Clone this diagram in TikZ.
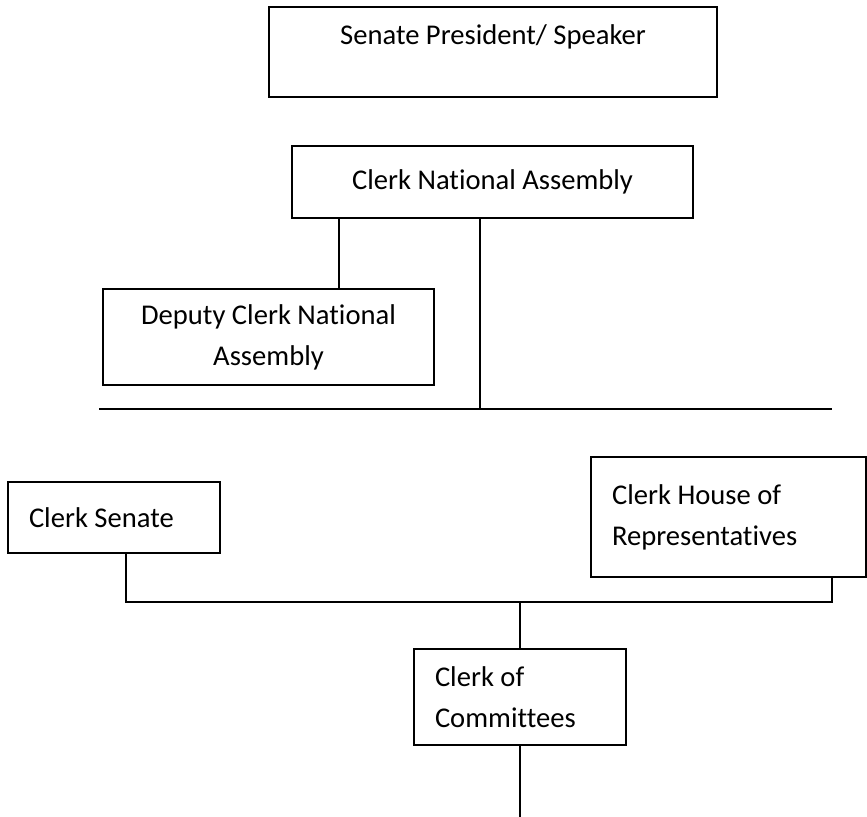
\documentclass[tikz,border=0pt]{standalone}
\usepackage{fontspec}
\setmainfont{Carlito}[Ligatures=NoCommon]
\usepackage{tikz}
\usetikzlibrary{positioning,calc}

\begin{document}
\begin{tikzpicture}[
  x=0.5pt, y=-0.5pt,
  font=\fontsize{14.3}{20.5}\selectfont,
  box/.style={rectangle, draw, line width=1pt, inner sep=0pt},
  lbox/.style={box, align=flush left, inner xsep=10.5pt},
  link/.style={line width=1pt}
]
\useasboundingbox (0,0) rectangle (867,817);

% top boxes
\node[box, minimum width=224pt, minimum height=45pt, text height=19pt, text depth=26pt]
  (pres) at (493,52) {Senate President/ Speaker};
\node[box, minimum width=200.5pt, minimum height=36pt] (cna) at (492.5,182) {Clerk National Assembly};
\node[box, align=center, minimum width=165.5pt, minimum height=48pt]
  (dcna) at (268.5,337) {Deputy Clerk National\\Assembly};

% lower boxes
\node[lbox, text width=85pt, minimum height=35.5pt] (cs) at (114,517.5) {Clerk Senate};
\node[lbox, text width=116.5pt, minimum height=60pt] (chr) at (728.5,517) {Clerk House of\\Representatives};
\node[lbox, text width=85pt, minimum height=48pt] (coc) at (520,697) {Clerk of\\Committees};

\coordinate (d1) at (339,0);
\coordinate (barL) at (99,409);
\coordinate (barR) at (832,409);
\coordinate (t1) at (480,409);
\coordinate (j1) at (126,602);
\coordinate (j2) at (832,602);
\coordinate (tail) at (520,817);

\draw[link] (cna.south -| d1) -- (dcna.north -| d1);
\draw[link] (cna.south -| t1) -- (t1);
\draw[link] (barL) -- (barR);

\draw[link] (cs.south -| j1) -- (j1) -- (j2) -- (chr.south -| j2);
\draw[link] (coc.north) -- (coc.north |- j1);
\draw[link] (coc.south) -- (tail);

\end{tikzpicture}
\end{document}
